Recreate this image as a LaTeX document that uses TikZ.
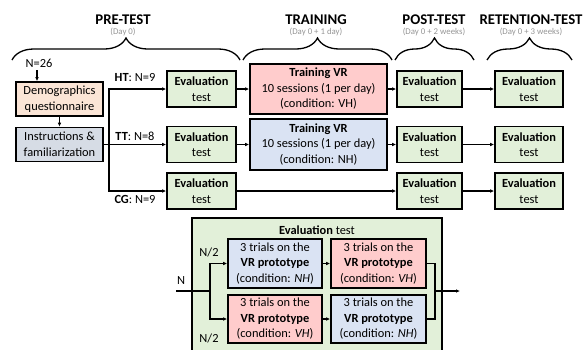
\documentclass[tikz,border=0pt]{standalone}
\usepackage{fontspec}
\setmainfont{Carlito}
\usetikzlibrary{arrows.meta,decorations.pathreplacing}
\definecolor{peach}{HTML}{FBE5D6}
\definecolor{greyblue}{HTML}{D6DCE5}
\definecolor{evgreen}{HTML}{E2F0D9}
\definecolor{trpink}{HTML}{FFCCCC}
\definecolor{trblue}{HTML}{DAE3F3}
\definecolor{daygrey}{HTML}{959595}
\begin{document}
\begin{tikzpicture}[x=1pt,y=-1pt,
  txt/.style={font=\fontsize{12.4}{15.5}\selectfont},
  box/.style={txt,draw=black,line width=1.6pt,align=center,inner sep=0pt},
  evbox/.style={box,fill=evgreen,minimum height=36pt},
  hdr/.style={font=\fontsize{14.8}{17}\selectfont\bfseries,inner sep=0pt},
  day/.style={font=\fontsize{8.8}{10}\selectfont,text=daygrey,inner sep=0pt},
  brc/.style={draw,line width=1.3pt,decorate,decoration={brace,amplitude=22pt}},
  arr/.style={line width=1.1pt,-{Latex[length=4pt,width=3.6pt]}},
  ln/.style={line width=1.1pt},
  lbl/.style={txt,inner sep=0pt}
]
\useasboundingbox (0,0) rectangle (585,349);

% headers
\node[hdr] (hpre) at (123,20) {PRE-TEST};
\node[day] (dpre) at (123,32) {(Day 0)};
\node[hdr] (htr) at (316,20) {TRAINING};
\node[day] (dtr) at (316,32) {(Day 0 + 1 day)};
\node[hdr] (hpost) at (434,20) {POST-TEST};
\node[day] (dpost) at (434,32) {(Day 0 + 2 weeks)};
\node[hdr] (hret) at (531,20) {RETENTION-TEST};
\node[day] (dret) at (531,32) {(Day 0 + 3 weeks)};

% braces
\draw[brc] (12,60) -- (240,60);
\draw[brc] (243,60) -- (392,60);
\draw[brc] (395,60) -- (474,60);
\draw[brc] (487,60) -- (572,60);

% pre-test
\node[lbl] (n26) at (39,63) {N=26};
\node[box,fill=peach,minimum width=87pt,minimum height=34pt] (demo) at (59.5,99) {Demographics\\questionnaire};
\node[box,fill=greyblue,minimum width=87pt,minimum height=34pt] (instr) at (59.5,144.5) {Instructions \&\\familiarization};
\draw[arr] (n26.south) ++(-2,3) -- ([xshift=-22.5pt]demo.north);
\draw[arr] (demo.south) -- (instr.north);

\node[evbox,minimum width=69pt] (evHT) at (201.5,89) {\textbf{Evaluation}\\test};
\node[evbox,minimum width=69pt] (evTT) at (201.5,144.5) {\textbf{Evaluation}\\test};
\node[evbox,minimum width=69pt] (evCG) at (201.5,191) {\textbf{Evaluation}\\test};

\coordinate (br) at (109,144.5);
\draw[arr] (instr.east) -- (evTT.west);
\draw[arr] (br) |- (evHT.west);
\draw[arr] (br) |- (evCG.west);
\node[lbl] (lHT) at (135,78) {\textbf{HT}: N=9};
\node[lbl] (lTT) at (135,136) {\textbf{TT}: N=8};
\node[lbl] (lCG) at (135,199.5) {\textbf{CG}: N=9};

% training
\node[box,fill=trpink,minimum width=137pt,minimum height=50pt] (trVH) at (318.5,89) {\textbf{Training VR}\\10 sessions (1 per day)\\(condition: VH)};
\node[box,fill=trblue,minimum width=137pt,minimum height=51pt] (trNH) at (318.5,144.5) {\textbf{Training VR}\\10 sessions (1 per day)\\(condition: NH)};

% post and retention
\node[evbox,minimum width=65pt] (poHT) at (429.5,89) {\textbf{Evaluation}\\test};
\node[evbox,minimum width=65pt] (poTT) at (429.5,144.5) {\textbf{Evaluation}\\test};
\node[evbox,minimum width=65pt] (poCG) at (429.5,191) {\textbf{Evaluation}\\test};
\node[evbox,minimum width=68pt] (reHT) at (529,89) {\textbf{Evaluation}\\test};
\node[evbox,minimum width=68pt] (reTT) at (529,144.5) {\textbf{Evaluation}\\test};
\node[evbox,minimum width=68pt] (reCG) at (529,191) {\textbf{Evaluation}\\test};

\draw[arr] (evHT) -- (trVH);
\draw[arr] (evTT) -- (trNH);
\draw[arr] (trVH) -- (poHT);
\draw[arr] (trNH) -- (poTT);
\draw[arr] (evCG) -- (poCG);
\draw[arr] (poHT) -- (reHT);
\draw[arr] (poTT) -- (reTT);
\draw[arr] (poCG) -- (reCG);

% evaluation test detail
\node[draw=black,line width=1.4pt,fill=evgreen,minimum width=250pt,minimum height=134pt,inner sep=0pt] (big) at (317,285) {};
\node[lbl] (bigt) at (317,230) {\textbf{Evaluation} test};
\node[box,fill=trblue,minimum width=94pt,minimum height=49pt] (a1) at (275,263.5) {3 trials on the\\\textbf{VR prototype}\\(condition: \textit{NH})};
\node[box,fill=trpink,minimum width=95pt,minimum height=49pt] (a2) at (378.5,263.5) {3 trials on the\\\textbf{VR prototype}\\(condition: \textit{VH})};
\node[box,fill=trpink,minimum width=94pt,minimum height=48pt] (b1) at (275,319) {3 trials on the\\\textbf{VR prototype}\\(condition: \textit{VH})};
\node[box,fill=trblue,minimum width=95pt,minimum height=48pt] (b2) at (378.5,319) {3 trials on the\\\textbf{VR prototype}\\(condition: \textit{NH})};

\coordinate (nin) at (176,291);
\coordinate (split) at (210,291);
\coordinate (join) at (435,291);
\coordinate (nout) at (460,291);
\node[lbl] (nlab) at (181,281) {N};
\node[lbl] (nh1) at (209,252) {N/2};
\node[lbl] (nh2) at (209,338) {N/2};
\draw[ln] (nin) -- (split);
\draw[arr] (split) |- (a1.west);
\draw[arr] (split) |- (b1.west);
\draw[arr] (a1) -- (a2);
\draw[arr] (b1) -- (b2);
\draw[ln] (a2.east) -| (join) |- (b2.east);
\draw[arr] (join) -- (nout);
\end{tikzpicture}
\end{document}
